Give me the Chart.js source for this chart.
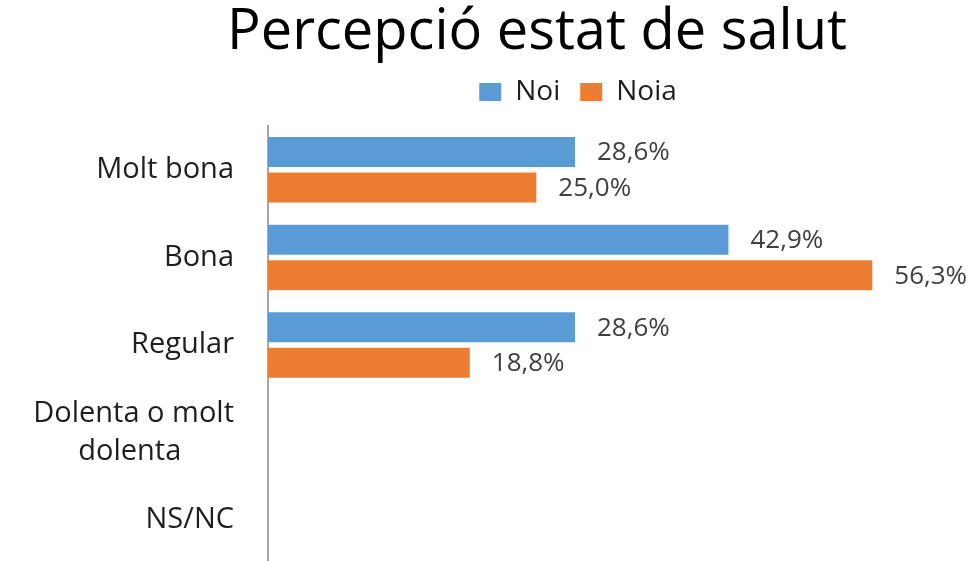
<!DOCTYPE html>
<html>
<head>
<meta charset="utf-8">
<script src="https://cdn.jsdelivr.net/npm/chart.js@4.4.1/dist/chart.umd.min.js"></script>
<style>
  html, body { margin: 0; padding: 0; background: #fff; overflow: hidden; }
  #wrap { width: 979px; height: 564px; position: relative; }
</style>
</head>
<body>
<div id="wrap"><canvas id="chart"></canvas></div>
<script>
// Dades
// (la segona línia de "Dolenta o molt dolenta" porta espais per quedar centrada com a l'original)
const categories = ['Molt bona', 'Bona', 'Regular', ['Dolenta o molt', 'dolenta       '], 'NS/NC'];
const noi = [28.6, 42.9, 28.6, null, null];
const noia = [25.0, 56.3, 18.8, null, null];
const seriesNames = ['Noi', 'Noia'];

const FONT = "'Open Sans', sans-serif";

// etiquetes de valor al final de cada barra
const valueLabels = {
    id: 'valueLabels',
    afterDatasetsDraw(chart) {
        const ctx = chart.ctx;
        ctx.save();
        ctx.font = "26px " + FONT;
        ctx.fillStyle = '#404040';
        ctx.textAlign = 'left';
        ctx.textBaseline = 'middle';
        chart.data.datasets.forEach((ds, i) => {
            const meta = chart.getDatasetMeta(i);
            meta.data.forEach((bar, j) => {
                const v = ds.data[j];
                if (v == null) return;
                ctx.fillText(v.toFixed(1).replace('.', ',') + '%', bar.x + 22, bar.y + 1);
            });
        });
        ctx.restore();
    }
};

// llegenda més alta i títol/llegenda desplaçats com a l'original
const headerLayout = {
    id: 'headerLayout',
    afterInit(chart) {
        const legend = chart.legend;
        const fit = legend.fit;
        legend.fit = function () {
            fit.call(this);
            this.height = 68;
        };
    },
    afterLayout(chart) {
        chart.titleBlock.left += 162;
        chart.legend.left += 122;
        chart.legend.right += 122;
    }
};

const ctx = document.getElementById('chart').getContext('2d');
const chart = new Chart(ctx, {
    type: 'bar',
    data: {
        labels: categories,
        datasets: [{
            label: seriesNames[0],
            data: noi,
            backgroundColor: '#5B9BD5',
            categoryPercentage: 0.81,
            barPercentage: 0.845
        }, {
            label: seriesNames[1],
            data: noia,
            backgroundColor: '#ED7D31',
            categoryPercentage: 0.81,
            barPercentage: 0.845
        }]
    },
    options: {
        indexAxis: 'y',
        responsive: true,
        maintainAspectRatio: false,
        animation: false,
        layout: { padding: { left: 0, right: 67, top: 0, bottom: 0 } },
        scales: {
            x: { display: false, min: 0, max: 60 },
            y: {
                grid: { display: false },
                border: { display: true, color: '#a6a6a6', width: 2 },
                ticks: {
                    padding: 26,
                    color: '#1f1f1f',
                    font: { family: FONT, size: 29, lineHeight: 1.3 }
                },
                afterFit(scale) {
                    scale.width = 268;
                    scale.paddingTop = 0;
                    scale.paddingBottom = 0;
                }
            }
        },
        plugins: {
            title: {
                display: true,
                text: 'Percepció estat de salut',
                color: '#000',
                font: { family: FONT, size: 56, weight: 'normal', lineHeight: 1.0 },
                padding: { top: 5, bottom: -3 }
            },
            legend: {
                position: 'top',
                labels: {
                    boxWidth: 22,
                    boxHeight: 18,
                    color: '#1f1f1f',
                    padding: 20,
                    font: { family: FONT, size: 28 }
                }
            },
            tooltip: { enabled: false }
        }
    },
    plugins: [valueLabels, headerLayout]
});
</script>
</body>
</html>
